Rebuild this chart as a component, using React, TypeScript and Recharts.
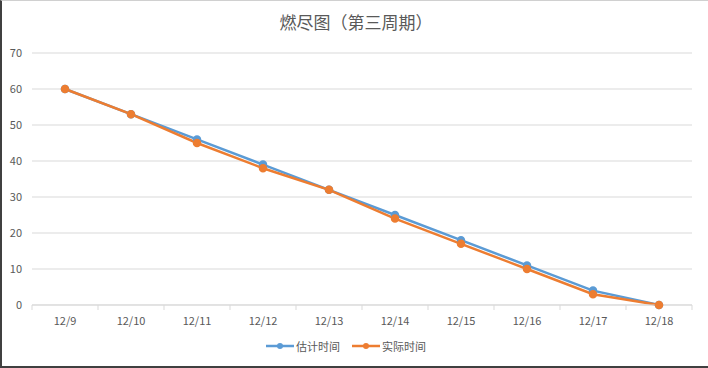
import React from 'react';
import { LineChart, Line, XAxis, YAxis, CartesianGrid, Legend } from 'recharts';

const days = ['12/9', '12/10', '12/11', '12/12', '12/13', '12/14', '12/15', '12/16', '12/17', '12/18'];
const estimated = [60, 53, 46, 39, 32, 25, 18, 11, 4, 0];
const actual = [60, 53, 45, 38, 32, 24, 17, 10, 3, 0];
const yTicks = [0, 10, 20, 30, 40, 50, 60, 70];

const data = days.map((day, i) => ({ day, est: estimated[i], act: actual[i] }));

const font = '"Noto Sans CJK SC", "Noto Sans", sans-serif';
const axisColor = '#d9d9d9';

// category label plus the small tick marks that sit between categories
const DayTick = (props: any) => {
  const { x, y, payload, index, width } = props;
  const half = width / (2 * days.length);
  return (
    <g>
      <line x1={x - half} y1={y} x2={x - half} y2={y + 5} stroke={axisColor} />
      {index === days.length - 1 && <line x1={x + half} y1={y} x2={x + half} y2={y + 5} stroke={axisColor} />}
      <text x={x} y={y + 20} textAnchor="middle" fill="#595959" fontSize={11} fontFamily={font}>
        {payload.value}
      </text>
    </g>
  );
};

// legend item: short line with a dot in the middle, like office charts
const LegendContent = (props: any) => {
  const { payload = [] } = props;
  return (
    <div style={{ display: 'flex', justifyContent: 'center', gap: 12, fontSize: 11, color: '#595959' }}>
      {payload.map((p: any) => (
        <div key={p.value} style={{ display: 'flex', alignItems: 'center' }}>
          <svg width={28} height={10} style={{ marginRight: 2 }}>
            <line x1={0} y1={5} x2={28} y2={5} stroke={p.color} strokeWidth={2.5} />
            <circle cx={14} cy={5} r={3} fill={p.color} />
          </svg>
          <span>{p.value}</span>
        </div>
      ))}
    </div>
  );
};

const App: React.FC = () => {
  return (
    <div
      style={{
        position: 'absolute',
        left: 0,
        top: 0,
        width: 708,
        height: 368,
        background: '#fff',
        fontFamily: font,
        boxSizing: 'border-box',
        borderLeft: '2px solid #404040',
        borderBottom: '2px solid #404040',
        borderTop: '1px solid #d0d0d0',
      }}
    >
      <div
        style={{
          position: 'absolute',
          top: 8,
          left: 0,
          width: 708,
          textAlign: 'center',
          fontSize: 17,
          color: '#595959',
        }}
      >
        燃尽图（第三周期）
      </div>
      <div style={{ position: 'absolute', left: -2, top: -1 }}>
        <LineChart width={708} height={368} data={data} margin={{ top: 53, right: 16, left: 0, bottom: 0 }}>
          <CartesianGrid vertical={false} stroke={axisColor} strokeDasharray="" />
          <XAxis
            dataKey="day"
            height={27}
            stroke={axisColor}
            tickLine={false}
            tickSize={0}
            tickMargin={0}
            padding={{ left: 33, right: 33 }}
            tick={<DayTick />}
            interval={0}
          />
          <YAxis
            width={32}
            domain={[0, 70]}
            ticks={yTicks}
            axisLine={false}
            tickLine={false}
            tickSize={0}
            tickMargin={10}
            tick={{ fill: '#595959', fontSize: 11, fontFamily: font }}
          />
          <Legend verticalAlign="bottom" height={30} content={<LegendContent />} wrapperStyle={{ paddingTop: 6 }} />
          <Line
            type="linear"
            dataKey="est"
            name="估计时间"
            stroke="#5B9BD5"
            strokeWidth={2.5}
            dot={{ r: 3, fill: '#5B9BD5', stroke: '#5B9BD5' }}
            isAnimationActive={false}
          />
          <Line
            type="linear"
            dataKey="act"
            name="实际时间"
            stroke="#ED7D31"
            strokeWidth={2.5}
            dot={{ r: 3, fill: '#ED7D31', stroke: '#ED7D31' }}
            isAnimationActive={false}
          />
        </LineChart>
      </div>
    </div>
  );
};

export default App;
